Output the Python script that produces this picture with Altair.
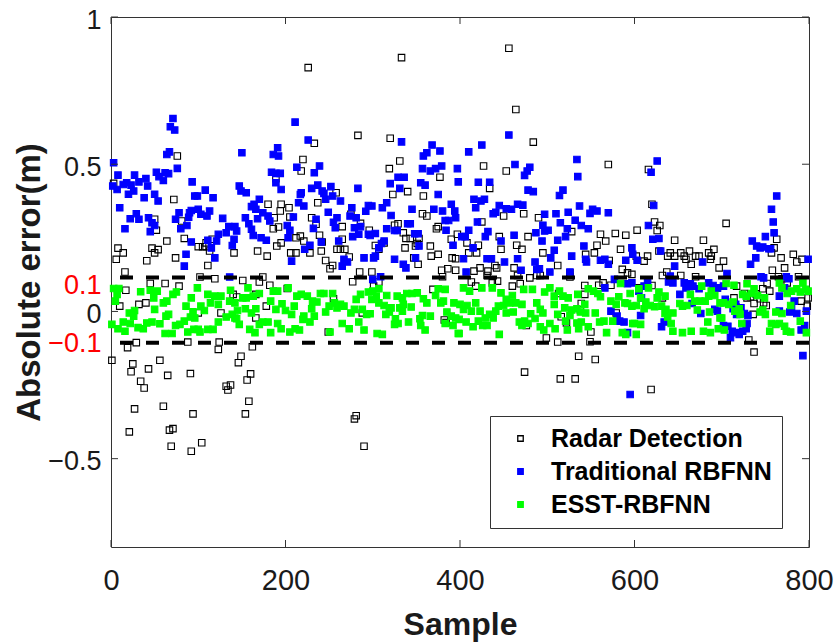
import altair as alt
import pandas as pd

# ---------------- data ----------------
series_names = ["Radar Detection", "Traditional RBFNN", "ESST-RBFNN"]
series_stroke = ["#000000", "#0000ff", "#00ff00"]
series_fill = ["transparent", "#0000ff", "#00ff00"]

x_tick_values = [0, 200, 400, 600, 800]
y_label_values = [-0.5, -0.1, 0, 0.1, 0.5, 1]
y_frame_ticks = [-0.5, 0, 0.5, 1]
bound_lines = [0.115, -0.106]

radar = [
    (76,0.528),(3,0.435),(72,0.38),(50,0.313),(81,0.307),(52,0.276),(84,0.248),(64,0.239),(8,0.215),(14,0.199),
    (6,0.177),(47,0.215),(54,0.21),(50,0.199),(74,0.182),(41,0.172),(16,0.134),(17,0.072),(62,0.095),(45,0.095),
    (78,0.086),(10,0.018),(32,0.024),(40,0.029),(29,-0.106),(19,-0.123),(1,-0.166),(25,-0.178),(23,-0.205),(43,-0.195),
    (56,-0.166),(65,-0.217),(34,-0.237),(38,-0.26),(27,-0.331),(60,-0.322),(21,-0.409),(67,-0.403),(71,-0.398),(69,-0.458),
    (92,-0.475),(94,-0.348),(91,-0.211),(88,-0.104),
    (189,0.451),(180,0.364),(187,0.318),(194,0.341),(195,0.364),(186,0.281),(192,0.287),(195,0.233),(190,0.222),(168,0.205),
    (179,0.188),(141,0.199),(100,0.22),(105,0.22),(109,0.22),(111,0.156),(113,0.205),(109,0.233),(116,0.245),(102,0.117),
    (119,0.111),(151,0.105),(170,0.1),(174,0.117),(182,0.089),(140,0.058),(144,0.049),(166,0.058),(178,0.018),(166,-0.022),
    (126,-0.005),(100,-0.005),(123,-0.129),(124,-0.104),(162,-0.12),(149,-0.152),(146,-0.174),(160,-0.212),(156,-0.233),(132,-0.254),
    (137,-0.25),(134,-0.267),(158,-0.305),(154,-0.348),(104,-0.446),
    (226,0.828),(283,0.598),(233,0.571),(220,0.516),(218,0.477),(258,0.403),(237,0.369),(204,0.352),(205,0.321),(230,0.318),
    (235,0.296),(239,0.259),(265,0.288),(286,0.299),(296,0.276),(275,0.33),(212,0.25),(217,0.256),(221,0.239),(206,0.199),
    (212,0.199),(228,0.199),(242,0.236),(241,0.205),(265,0.245),(259,0.211),(263,0.211),(268,0.211),(246,0.173),(254,0.156),
    (251,0.145),(273,0.185),(285,0.134),(277,0.101),(202,0.078),(255,0.043),(288,-0.005),(249,-0.07),(281,-0.354),(279,-0.365),
    (290,-0.458),
    (333,0.862),(320,0.588),(331,0.511),(319,0.485),(377,0.456),(340,0.407),(323,0.397),(358,0.392),(357,0.332),(362,0.324),
    (329,0.298),(325,0.293),(335,0.267),(338,0.248),(343,0.248),(353,0.248),(351,0.231),(373,0.281),(375,0.288),(390,0.245),
    (397,0.262),(303,0.224),(313,0.233),(307,0.211),(337,0.216),(349,0.222),(366,0.222),(367,0.188),(375,0.194),(347,0.182),
    (352,0.16),(391,0.182),(395,0.179),(299,0.134),(379,0.14),(386,0.145),(395,0.14),(380,0.118),(307,0.1),(301,0.086),
    (369,0.075),(382,-0.029),(384,-0.038),
    (456,0.894),(464,0.686),(484,0.575),(427,0.494),(453,0.477),(434,0.418),(450,0.324),(473,0.332),(490,0.318),(425,0.304),
    (408,0.233),(421,0.225),(445,0.254),(478,0.254),(465,0.225),(471,0.211),(447,0.211),(410,0.199),(419,0.199),(495,0.199),
    (440,0.156),(423,0.148),(416,0.137),(432,0.137),(442,0.148),(431,0.122),(462,0.148),(466,0.122),(488,0.122),(492,0.122),
    (480,0.114),(413,0.1),(418,0.086),(437,0.097),(443,0.103),(460,0.086),(469,0.094),(476,-0.048),(474,-0.206),(499,-0.09),
    (570,0.499),(528,0.271),(561,0.262),(578,0.265),(590,0.259),(567,0.239),(557,0.225),(584,0.211),(554,0.199),(544,0.194),
    (571,0.173),(512,0.156),(586,0.143),(592,0.131),(597,0.126),(526,0.131),(526,0.117),(543,0.088),(559,0.089),(573,0.089),
    (564,0.097),(513,0.061),(543,0.058),(539,0.027),(538,0.005),(579,-0.005),(516,-0.018),(522,-0.039),(550,-0.07),(512,-0.104),
    (549,-0.103),(536,-0.152),(555,-0.163),(515,-0.229),(532,-0.229),
    (616,0.482),(620,0.364),(623,0.304),(629,0.292),(626,0.275),(603,0.276),(646,0.242),(679,0.242),(602,0.188),(615,0.188),
    (611,0.171),(628,0.205),(638,0.188),(641,0.199),(646,0.188),(653,0.199),(657,0.188),(663,0.205),(659,0.177),(665,0.16),
    (670,0.188),(674,0.188),(688,0.188),(691,0.211),(685,0.199),(687,0.177),(697,0.148),(637,0.134),(632,0.122),(653,0.122),
    (670,0.118),(605,0.08),(620,0.088),(632,0.046),(695,0.08),(619,-0.265),
    (705,0.299),(763,0.245),(760,0.216),(757,0.199),(768,0.182),(772,0.148),(782,0.194),(786,0.168),(792,0.177),(702,0.171),
    (758,0.14),(788,0.118),(765,0.118),(769,0.111),(775,0.097),(752,0.095),(755,0.069),(747,0.077),(739,0.06),(726,0.061),
    (729,0.046),(733,0.05),(744,0.043),(748,0.029),(714,0.046),(717,0.086),(716,0.016),(737,0.027),(751,0.02),(736,-0.01),
    (791,0.035),(799,0.046),(798,0.018),(731,-0.097),(737,-0.138),
]

traditional = [
    (71,0.655),(68,0.627),(73,0.616),(67,0.542),(64,0.533),(76,0.486),(3,0.505),(8,0.463),(27,0.463),(52,0.473),
    (62,0.471),(66,0.468),(55,0.458),(60,0.445),(40,0.451),(32,0.44),(2,0.426),(7,0.414),(14,0.431),(18,0.437),
    (23,0.429),(20,0.398),(26,0.409),(42,0.426),(93,0.44),(38,0.386),(50,0.398),(54,0.375),(10,0.352),(22,0.315),
    (29,0.332),(32,0.313),(16,0.281),(43,0.318),(47,0.301),(50,0.292),(45,0.271),(74,0.313),(78,0.335),(90,0.335),
    (92,0.343),(89,0.32),(87,0.292),(80,0.281),(92,0.236),(86,0.194),(84,0.154),(96,0.392),
    (150,0.539),(191,0.556),(186,0.533),(192,0.528),(184,0.473),(189,0.469),(194,0.469),(189,0.437),(108,0.412),(99,0.392),
    (117,0.386),(195,0.414),(147,0.426),(149,0.409),(155,0.403),(170,0.381),(164,0.364),(166,0.347),(161,0.356),(174,0.335),
    (180,0.324),(168,0.315),(182,0.307),(100,0.347),(103,0.33),(110,0.324),(113,0.341),(128,0.316),(154,0.318),(158,0.298),
    (161,0.279),(163,0.258),(135,0.288),(142,0.288),(144,0.273),(132,0.267),(123,0.262),(121,0.239),(111,0.242),(115,0.216),
    (119,0.182),(141,0.245),(139,0.224),(172,0.25),(178,0.242),(136,0.117),
    (211,0.643),(226,0.582),(213,0.49),(239,0.494),(233,0.471),(217,0.397),(218,0.403),(230,0.418),(237,0.429),(242,0.409),
    (244,0.401),(252,0.424),(254,0.392),(246,0.381),(263,0.375),(283,0.418),(215,0.369),(221,0.358),(209,0.321),(202,0.292),
    (205,0.276),(235,0.313),(232,0.282),(249,0.337),(255,0.303),(259,0.318),(257,0.284),(276,0.352),(274,0.324),(281,0.318),
    (279,0.284),(286,0.288),(284,0.262),(292,0.34),(295,0.36),(295,0.262),(277,0.254),(203,0.25),(228,0.225),(222,0.211),
    (241,0.236),(261,0.239),(207,0.171),(267,0.177),(271,0.168),(265,0.154),(290,0.182),
    (333,0.576),(368,0.565),(362,0.539),(358,0.528),(377,0.545),(379,0.494),(372,0.485),(366,0.477),(357,0.485),(397,0.485),
    (398,0.44),(329,0.456),(336,0.456),(320,0.434),(331,0.418),(355,0.437),(360,0.429),(375,0.397),(316,0.369),(311,0.352),
    (299,0.358),(321,0.326),(345,0.347),(370,0.347),(380,0.341),(390,0.364),(394,0.341),(395,0.318),(383,0.309),(387,0.309),
    (340,0.298),(343,0.298),(316,0.281),(328,0.275),(325,0.275),(303,0.265),(297,0.258),(348,0.264),(352,0.264),(384,0.276),
    (313,0.239),(307,0.216),(310,0.231),(303,0.188),(301,0.182),(353,0.222),(392,0.225),(325,0.177),(335,0.16),(338,0.148),
    (349,0.182),(309,0.118),(300,0.109),
    (456,0.599),(425,0.565),(410,0.542),(463,0.499),(480,0.49),(477,0.477),(474,0.462),(421,0.439),(434,0.439),(478,0.412),
    (484,0.407),(416,0.381),(424,0.375),(428,0.381),(418,0.352),(445,0.36),(453,0.349),(459,0.347),(466,0.364),(472,0.361),
    (438,0.332),(441,0.337),(420,0.304),(410,0.276),(495,0.293),(497,0.273),(497,0.33),(432,0.271),(429,0.254),(402,0.254),
    (406,0.254),(462,0.259),(487,0.267),(415,0.216),(447,0.239),(494,0.239),(431,0.179),(436,0.179),(451,0.168),(466,0.179),
    (486,0.168),(404,0.179),(407,0.134),(470,0.14),(488,0.143),(491,0.145),
    (534,0.516),(535,0.458),(518,0.412),(514,0.394),(537,0.358),(552,0.347),(557,0.341),(549,0.333),(570,0.335),(524,0.337),
    (510,0.332),(532,0.31),(515,0.301),(539,0.292),(547,0.281),(523,0.281),(501,0.276),(521,0.254),(512,0.242),(597,0.216),
    (542,0.222),(508,0.208),(528,0.188),(504,0.182),(544,0.177),(545,0.168),(561,0.174),(566,0.177),(570,0.16),(590,0.174),
    (598,0.194),(503,0.134),(526,0.134),(566,0.08),(592,0.094),(597,0.097),(577,0.109),(573,0.001),(580,-0.016),(583,-0.033),
    (588,-0.036),(592,-0.072),(595,-0.282),
    (626,0.511),(619,0.473),(622,0.36),(616,0.292),(621,0.245),(628,0.248),(630,0.205),(603,0.174),(678,0.168),(646,0.154),
    (615,0.106),(639,0.1),(644,0.097),(641,0.12),(657,0.097),(664,0.094),(667,0.086),(685,0.097),(695,0.08),(611,0.086),
    (605,0.069),(608,0.046),(659,0.08),(663,0.084),(674,0.077),(690,0.088),(652,0.058),(607,-0.014),(676,-0.007),(666,0.027),
    (695,0.001),(692,0.007),(634,-0.036),(631,-0.052),
    (763,0.392),(757,0.347),(759,0.304),(750,0.254),(760,0.267),(735,0.239),(740,0.222),(744,0.216),(747,0.219),(754,0.213),
    (756,0.213),(739,0.182),(733,0.16),(799,0.177),(706,0.129),(745,0.118),(748,0.114),(774,0.118),(777,0.111),(772,0.08),
    (702,0.086),(704,0.041),(716,0.024),(713,0.009),(722,0.012),(717,-0.01),(726,-0.007),(730,-0.014),(766,0.052),(766,0.001),
    (778,-0.002),(780,0.009),(783,0.035),(786,-0.007),(797,0.001),(702,-0.048),(707,-0.05),(712,-0.067),(716,-0.072),(720,-0.078),
    (724,-0.067),(728,-0.059),(710,-0.089),(729,-0.041),(791,-0.063),(795,-0.048),(793,-0.15),
]

esst = [
    (3,0.078),(9,0.078),(7,0.058),(5,0.035),(34,0.067),(45,0.072),(53,0.069),(49,0.046),(71,0.058),(75,0.066),
    (64,0.035),(60,0.029),(92,0.046),(86,0.018),(50,0.007),(21,-0.005),(27,0.003),(26,-0.016),(66,-0.01),(63,-0.016),
    (94,-0.001),(1,-0.044),(14,-0.036),(22,-0.041),(8,-0.059),(16,-0.067),(31,-0.055),(37,-0.059),(41,-0.039),(47,-0.036),
    (56,-0.042),(62,-0.075),(70,-0.075),(74,-0.048),(79,-0.044),(84,-0.033),(88,-0.07),(91,-0.019),(95,-0.061),
    (99,0.08),(111,0.058),(119,0.052),(126,0.052),(114,0.029),(123,0.024),(137,0.072),(136,0.035),(142,0.029),(151,0.046),
    (155,0.046),(157,0.08),(163,0.052),(170,0.061),(186,0.069),(191,0.069),(183,0.035),(196,0.026),(103,0.018),(107,0.003),
    (132,-0.019),(139,-0.01),(142,-0.022),(145,0.003),(154,0.009),(161,-0.005),(166,0.009),(189,0.007),(96,-0.022),(100,-0.061),
    (102,-0.07),(111,-0.061),(117,-0.061),(123,-0.036),(147,-0.044),(144,-0.025),(159,-0.061),(165,-0.072),(170,-0.044),(174,-0.036),
    (180,-0.036),(183,-0.072),(191,-0.041),(195,-0.059),
    (203,0.08),(213,0.052),(218,0.058),(225,0.052),(231,0.035),(236,0.032),(240,0.061),(244,0.061),(254,0.061),(256,0.029),
    (263,0.024),(281,0.041),(286,0.058),(295,0.066),(210,0.018),(200,0.003),(207,-0.01),(230,0.009),(246,-0.002),(250,0.018),
    (259,0.012),(267,0.018),(275,-0.005),(279,0.007),(288,0.007),(293,-0.01),(221,-0.016),(233,-0.016),(220,-0.027),(228,-0.036),
    (205,-0.07),(211,-0.059),(216,-0.063),(251,-0.07),(265,-0.041),(273,-0.059),(284,-0.036),(290,-0.063),
    (300,0.069),(307,0.077),(304,0.052),(299,0.041),(316,0.054),(328,0.052),(334,0.046),(339,0.061),(345,0.061),(351,0.063),
    (358,0.043),(362,0.029),(372,0.054),(375,0.077),(383,0.075),(378,0.029),(381,0.035),(393,0.029),(307,0.029),(313,0.02),
    (321,0.012),(331,0.012),(335,0.024),(344,0.015),(319,-0.002),(315,-0.01),(334,0.001),(297,-0.008),(357,-0.014),(366,-0.016),
    (385,-0.002),(390,-0.016),(395,-0.022),(326,-0.025),(325,-0.044),(329,-0.041),(341,-0.036),(354,-0.025),(355,-0.048),(360,-0.063),
    (383,-0.041),(392,-0.048),(398,-0.075),(305,-0.075),(311,-0.078),
    (404,0.08),(411,0.069),(425,0.08),(437,0.08),(447,0.063),(460,0.054),(453,0.041),(473,0.075),(483,0.075),(497,0.066),
    (457,0.029),(464,0.029),(471,0.024),(488,0.029),(400,0.024),(408,0.02),(418,0.029),(404,0.007),(413,0.001),(423,0.001),
    (444,0.018),(450,0.02),(441,0.001),(453,-0.005),(461,-0.002),(495,-0.005),(492,0.007),(399,-0.027),(434,-0.01),(429,-0.022),
    (438,-0.022),(481,-0.008),(486,-0.024),(407,-0.036),(421,-0.033),(415,-0.052),(426,-0.048),(431,-0.048),(468,-0.036),(471,-0.048),
    (474,-0.033),(478,-0.041),(492,-0.052),(496,-0.063),(399,-0.075),(445,-0.078),
    (503,0.08),(514,0.069),(508,0.052),(518,0.052),(524,0.046),(535,0.058),(547,0.077),(553,0.069),(558,0.061),(561,0.05),
    (584,0.095),(582,0.05),(573,0.035),(579,0.024),(589,0.029),(592,0.027),(595,0.061),(597,0.018),(508,0.024),(543,0.024),
    (520,0.012),(528,0.005),(534,0.009),(538,-0.002),(544,-0.005),(512,-0.01),(555,-0.005),(526,-0.014),(521,-0.033),(503,-0.041),
    (534,-0.039),(539,-0.036),(560,-0.036),(565,-0.033),(575,-0.033),(509,-0.059),(523,-0.063),(536,-0.059),(547,-0.052),(568,-0.072),
    (586,-0.072),(590,-0.078),(598,-0.041),
    (605,0.077),(616,0.08),(628,0.066),(635,0.052),(607,0.046),(613,0.032),(618,0.02),(626,0.046),(631,0.018),(636,0.007),
    (602,0.02),(611,0.009),(623,0.016),(635,-0.007),(638,-0.019),(644,-0.005),(652,0.027),(655,0.018),(660,0.02),(664,0.058),
    (669,0.035),(675,0.035),(681,0.035),(677,0.086),(685,0.052),(688,0.069),(692,0.054),(698,0.029),(672,0.005),(686,-0.002),
    (698,-0.022),(600,-0.041),(607,-0.044),(602,-0.078),(642,-0.041),(644,-0.067),(655,-0.072),(665,-0.067),(679,-0.067),(687,-0.072),
    (684,-0.036),(696,-0.059),
    (705,0.095),(714,0.089),(729,0.094),(737,0.077),(734,0.061),(728,0.052),(724,0.058),(741,0.054),(749,0.046),(766,0.097),
    (769,0.08),(775,0.061),(780,0.069),(786,0.077),(793,0.097),(796,0.075),(790,0.066),(799,0.069),(702,0.029),(708,0.024),
    (713,0.032),(779,0.02),(720,0.009),(715,0.001),(744,-0.002),(747,0.005),(721,-0.01),(750,-0.01),(762,-0.002),(769,-0.007),
    (700,-0.022),(723,-0.041),(703,-0.063),(757,-0.041),(762,-0.044),(766,-0.041),(790,-0.033),(755,-0.067),(774,-0.067),(779,-0.07),
    (797,-0.072),(772,-0.05),
]

# ---------------- build table ----------------
rows = []
for name, pts in zip(series_names, [radar, traditional, esst]):
    for sx, sy in pts:
        rows.append({"Sample": sx, "err": sy, "series": name})
df = pd.DataFrame(rows)

W, H = 698, 530
FONT = "Liberation Sans, Arial, Helvetica, sans-serif"
FRAME = "#333333"

x_scale = alt.Scale(domain=[0, 800], nice=False, zero=False)
y_scale = alt.Scale(domain=[-0.8, 1], nice=False, zero=False)

x_axis = alt.Axis(
    values=x_tick_values, format="d", grid=False, ticks=False, tickSize=0,
    domain=False, labelFlush=False, labelOverlap=False,
    labelFontSize=29, labelFont=FONT, labelColor="#1a1a1a", labelPadding=19,
    titleFontSize=32, titleFont=FONT, titleFontWeight="bold", titleColor="#1a1a1a",
    titleX=W / 2, titleY=87, titleAlign="center", titleBaseline="alphabetic",
)
y_axis = alt.Axis(
    values=y_label_values, format="~g", grid=False, ticks=False, tickSize=0,
    domain=False, labelFlush=False, labelOverlap=False,
    labelFontSize=27, labelFont=FONT, labelPadding=10, labelOffset=3,
    labelColor=alt.condition("abs(abs(datum.value) - 0.1) < 0.001", alt.value("#ff0000"), alt.value("#1a1a1a")),
    titleFontSize=33, titleFont=FONT, titleFontWeight="bold", titleColor="#1a1a1a",
    titleX=-72, titleY=H / 2, titleAngle=270, titleAlign="center", titleBaseline="alphabetic",
)
X_TITLE = "Sample"
Y_TITLE = "Absolute error(m)"

leg = alt.Legend(
    orient="none", legendX=379, legendY=399, title=None,
    labelFontSize=25, labelFontWeight="bold", labelFont=FONT, labelColor="black", labelLimit=0,
    symbolType="square", symbolSize=30, symbolStrokeWidth=1.3,
    symbolOffset=8, labelOffset=18, rowPadding=7, padding=10,
    fillColor="white", strokeColor=FRAME, cornerRadius=0,
)

points = alt.Chart(df).mark_point(
    shape="square", size=42, strokeWidth=1.1, opacity=1, filled=True
).encode(
    x=alt.X("Sample:Q", scale=x_scale, axis=x_axis, title=X_TITLE),
    y=alt.Y("err:Q", scale=y_scale, axis=y_axis, title=Y_TITLE),
    stroke=alt.Stroke("series:N", scale=alt.Scale(domain=series_names, range=series_stroke), legend=leg),
    fill=alt.Fill("series:N", scale=alt.Scale(domain=series_names, range=series_fill), legend=leg),
)

bounds = alt.Chart(pd.DataFrame({"b": bound_lines})).mark_rule(
    color="black", strokeWidth=4, strokeDash=[13, 13]
).encode(y=alt.Y("b:Q", scale=y_scale, axis=y_axis, title=Y_TITLE))

xt = pd.DataFrame({"v": x_tick_values})
yt = pd.DataFrame({"v": y_frame_ticks})
tick_bottom = alt.Chart(xt).mark_rule(color=FRAME, strokeWidth=1).encode(
    x=alt.X("v:Q", scale=x_scale, axis=x_axis, title=X_TITLE), y=alt.value(H), y2=alt.value(H - 7))
tick_top = alt.Chart(xt).mark_rule(color=FRAME, strokeWidth=1).encode(
    x=alt.X("v:Q", scale=x_scale, axis=x_axis, title=X_TITLE), y=alt.value(0), y2=alt.value(7))
tick_left = alt.Chart(yt).mark_rule(color=FRAME, strokeWidth=1).encode(
    y=alt.Y("v:Q", scale=y_scale, axis=y_axis, title=Y_TITLE), x=alt.value(0), x2=alt.value(7))
tick_right = alt.Chart(yt).mark_rule(color=FRAME, strokeWidth=1).encode(
    y=alt.Y("v:Q", scale=y_scale, axis=y_axis, title=Y_TITLE), x=alt.value(W), x2=alt.value(W - 7))

chart = alt.layer(points, bounds, tick_bottom, tick_top, tick_left, tick_right).properties(
    width=W, height=H,
    autosize=alt.AutoSizeParams(type="none"),
    padding={"left": 111, "top": 17, "right": 26, "bottom": 96},
    background="white",
).configure_view(stroke=FRAME, strokeWidth=1)

chart.save("out.html", embed_options={"renderer": "svg", "actions": False})
